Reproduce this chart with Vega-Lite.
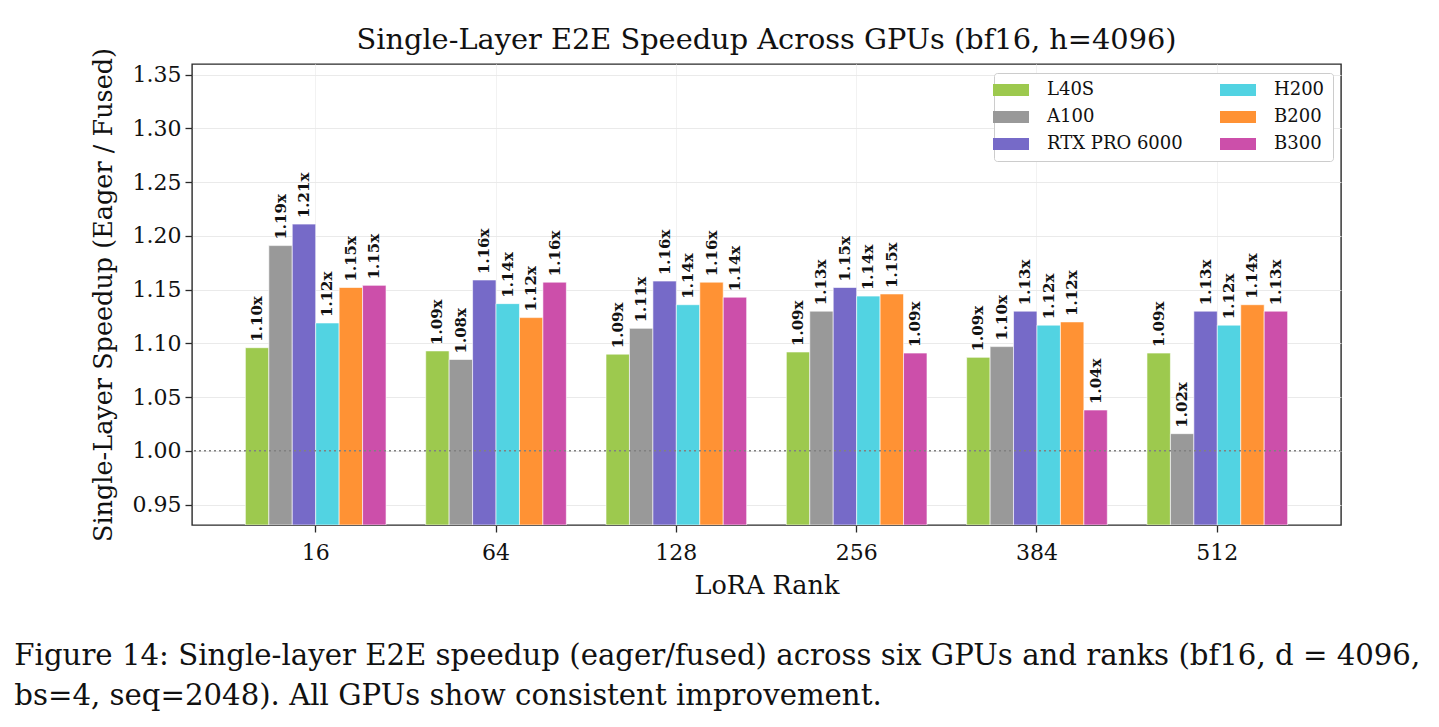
{
  "$schema": "https://vega.github.io/schema/vega-lite/v6.json",
  "background": "white",
  "padding": {"left": 14, "top": 24, "right": 10, "bottom": 10},
  "title": {
    "text": [
      "Figure 14: Single-layer E2E speedup (eager/fused) across six GPUs and ranks (bf16, d = 4096,",
      "bs=4, seq=2048). All GPUs show consistent improvement."
    ],
    "orient": "bottom",
    "anchor": "start",
    "font": "DejaVu Serif",
    "fontSize": 29.2,
    "fontWeight": "normal",
    "color": "#111111",
    "lineHeight": 40,
    "offset": 43,
    "dx": -76
  },
  "config": {
    "font": "DejaVu Serif",
    "view": {"stroke": "#2a2a2a", "strokeWidth": 1.4},
    "axis": {
      "domain": false,
      "labelFont": "DejaVu Serif",
      "labelFontSize": 22,
      "labelColor": "#111111",
      "titleFont": "DejaVu Serif",
      "titleFontSize": 25.5,
      "titleFontWeight": "normal",
      "titleColor": "#111111",
      "tickColor": "#2a2a2a",
      "tickSize": 7,
      "tickWidth": 1.3,
      "gridColor": "#e8e8e8",
      "gridWidth": 0.9
    },
    "legend": {
      "labelFont": "DejaVu Serif",
      "labelFontSize": 18,
      "labelColor": "#111111"
    }
  },
  "datasets": {
    "speedup": [
      {"rank": "16", "gpu": "L40S", "speedup": 1.096},
      {"rank": "16", "gpu": "A100", "speedup": 1.191},
      {"rank": "16", "gpu": "RTX PRO 6000", "speedup": 1.211},
      {"rank": "16", "gpu": "H200", "speedup": 1.119},
      {"rank": "16", "gpu": "B200", "speedup": 1.152},
      {"rank": "16", "gpu": "B300", "speedup": 1.154},
      {"rank": "64", "gpu": "L40S", "speedup": 1.093},
      {"rank": "64", "gpu": "A100", "speedup": 1.085},
      {"rank": "64", "gpu": "RTX PRO 6000", "speedup": 1.159},
      {"rank": "64", "gpu": "H200", "speedup": 1.137},
      {"rank": "64", "gpu": "B200", "speedup": 1.124},
      {"rank": "64", "gpu": "B300", "speedup": 1.157},
      {"rank": "128", "gpu": "L40S", "speedup": 1.090},
      {"rank": "128", "gpu": "A100", "speedup": 1.114},
      {"rank": "128", "gpu": "RTX PRO 6000", "speedup": 1.158},
      {"rank": "128", "gpu": "H200", "speedup": 1.136},
      {"rank": "128", "gpu": "B200", "speedup": 1.157},
      {"rank": "128", "gpu": "B300", "speedup": 1.143},
      {"rank": "256", "gpu": "L40S", "speedup": 1.092},
      {"rank": "256", "gpu": "A100", "speedup": 1.130},
      {"rank": "256", "gpu": "RTX PRO 6000", "speedup": 1.152},
      {"rank": "256", "gpu": "H200", "speedup": 1.144},
      {"rank": "256", "gpu": "B200", "speedup": 1.146},
      {"rank": "256", "gpu": "B300", "speedup": 1.091},
      {"rank": "384", "gpu": "L40S", "speedup": 1.087},
      {"rank": "384", "gpu": "A100", "speedup": 1.097},
      {"rank": "384", "gpu": "RTX PRO 6000", "speedup": 1.130},
      {"rank": "384", "gpu": "H200", "speedup": 1.117},
      {"rank": "384", "gpu": "B200", "speedup": 1.120},
      {"rank": "384", "gpu": "B300", "speedup": 1.038},
      {"rank": "512", "gpu": "L40S", "speedup": 1.091},
      {"rank": "512", "gpu": "A100", "speedup": 1.016},
      {"rank": "512", "gpu": "RTX PRO 6000", "speedup": 1.130},
      {"rank": "512", "gpu": "H200", "speedup": 1.117},
      {"rank": "512", "gpu": "B200", "speedup": 1.136},
      {"rank": "512", "gpu": "B300", "speedup": 1.130}
    ]
  },
  "vconcat": [
    {
      "width": 1149,
      "height": 461,
      "title": {
        "text": "Single-Layer E2E Speedup Across GPUs (bf16, h=4096)",
        "font": "DejaVu Serif",
        "fontSize": 28.8,
        "fontWeight": "normal",
        "color": "#111111",
        "anchor": "middle",
        "offset": -7
      },
      "data": {"name": "speedup"},
      "encoding": {
        "x": {
          "field": "rank",
          "type": "ordinal",
          "sort": ["16", "64", "128", "256", "384", "512"],
          "scale": {"paddingInner": 0.22, "paddingOuter": 0.296},
          "axis": {
            "title": "LoRA Rank",
            "labelAngle": 0,
            "labelPadding": 10,
            "titlePadding": 10,
            "grid": true,
            "gridColor": "#f0f0f0",
            "bandPosition": 0.5
          }
        },
        "xOffset": {
          "field": "gpu",
          "type": "nominal",
          "sort": ["L40S", "A100", "RTX PRO 6000", "H200", "B200", "B300"],
          "scale": {"paddingInner": 0, "paddingOuter": 0}
        },
        "y": {
          "field": "speedup",
          "type": "quantitative",
          "scale": {"domain": [0.931, 1.36], "nice": false, "zero": false},
          "axis": {
            "title": "Single-Layer Speedup (Eager / Fused)",
            "values": [0.95, 1.0, 1.05, 1.1, 1.15, 1.2, 1.25, 1.3, 1.35],
            "format": ".2f",
            "labelPadding": 4,
            "titlePadding": 16
          }
        }
      },
      "layer": [
        {
          "mark": {"type": "bar", "stroke": "white", "strokeWidth": 0.6, "clip": true},
          "encoding": {
            "y2": {"datum": 0.931},
            "color": {
              "field": "gpu",
              "type": "nominal",
              "scale": {
                "domain": ["L40S", "A100", "RTX PRO 6000", "H200", "B200", "B300"],
                "range": ["#9dc94e", "#999999", "#766ac8", "#52d3e2", "#ff9234", "#cc4faa"]
              },
              "legend": {
                "title": null,
                "orient": "none",
                "legendX": 802,
                "legendY": 9,
                "columns": 2,
                "columnPadding": 37,
                "rowPadding": 9,
                "padding": 8,
                "symbolType": "M-3,-1H3V1H-3Z",
                "symbolSize": 144,
                "symbolStrokeWidth": 0,
                "labelOffset": 27,
                "strokeColor": "#cccccc",
                "fillColor": "white",
                "cornerRadius": 3
              }
            }
          }
        },
        {
          "data": {"values": [{"ref": 1.0}]},
          "mark": {"type": "rule", "color": "#808080", "strokeDash": [2, 3], "strokeWidth": 1.5},
          "encoding": {
            "x": null,
            "xOffset": null,
            "y": {"field": "ref", "type": "quantitative"}
          }
        },
        {
          "transform": [
            {"calculate": "format(datum.speedup, '.2f') + 'x'", "as": "label"}
          ],
          "mark": {
            "type": "text",
            "angle": 270,
            "align": "left",
            "baseline": "middle",
            "dx": 6,
            "font": "DejaVu Serif",
            "fontSize": 15,
            "fontWeight": "bold",
            "color": "#111111"
          },
          "encoding": {
            "text": {"field": "label", "type": "nominal"}
          }
        }
      ]
    }
  ]
}
